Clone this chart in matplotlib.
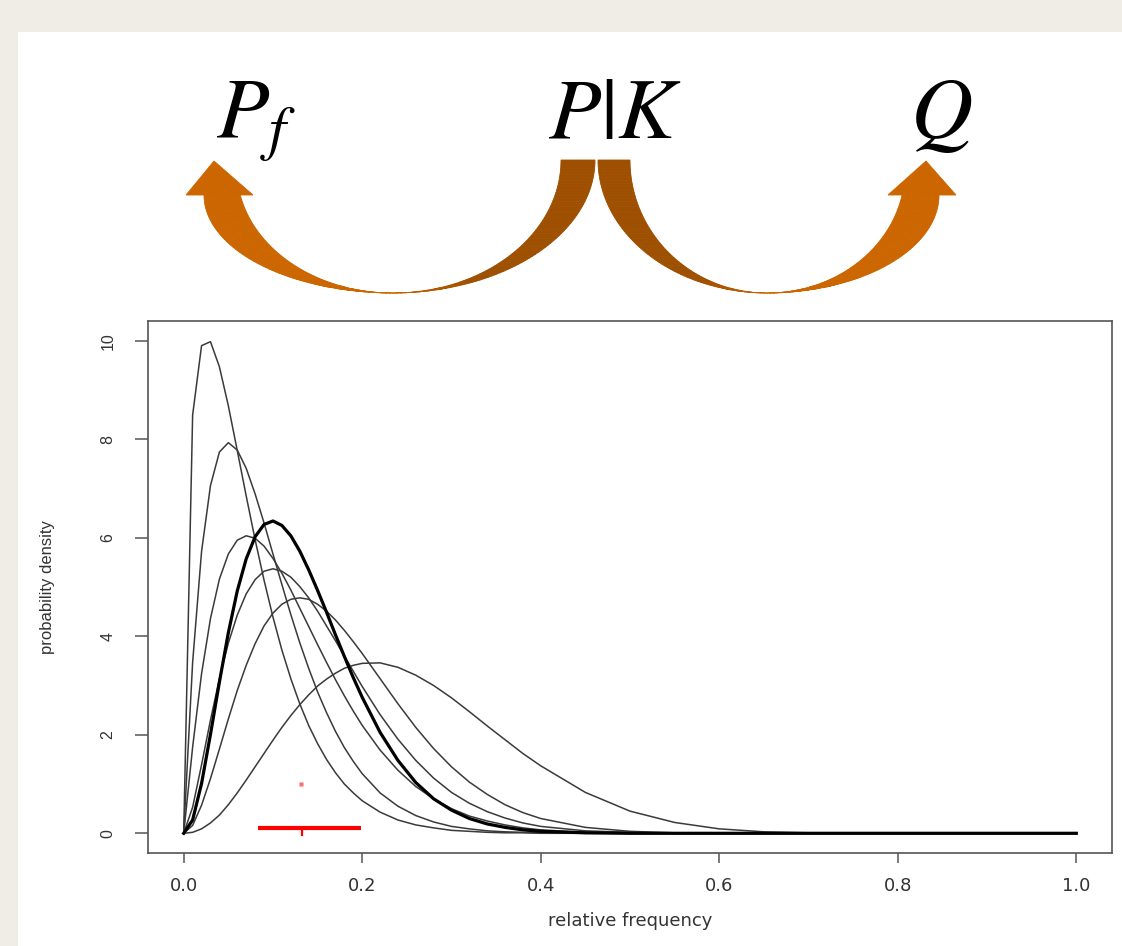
import numpy as np
import matplotlib
matplotlib.use("Agg")
import matplotlib.pyplot as plt
from matplotlib.patches import Polygon, Rectangle

plt.rcParams["mathtext.fontset"] = "stix"

# ---------------- data ----------------
rel_freq = [0.00, 0.01, 0.02, 0.03, 0.04, 0.05, 0.06, 0.07, 0.08, 0.09, 0.10,
            0.11, 0.12, 0.13, 0.14, 0.15, 0.16, 0.17, 0.18, 0.19, 0.20,
            0.22, 0.24, 0.26, 0.28, 0.30, 0.32, 0.34, 0.36, 0.38, 0.40,
            0.45, 0.50, 0.55, 0.60, 0.65, 0.70, 0.80, 1.00]

dens_a = [0, 8.49, 9.90, 9.98, 9.47, 8.68, 7.77, 6.85, 5.96, 5.14, 4.39,
          3.72, 3.14, 2.63, 2.19, 1.82, 1.50, 1.23, 1.00, 0.82, 0.66,
          0.43, 0.27, 0.17, 0.11, 0.06, 0.04, 0.02, 0.01, 0.01, 0.00,
          0, 0, 0, 0, 0, 0, 0, 0]
dens_b = [0, 3.47, 5.72, 7.06, 7.74, 7.93, 7.78, 7.41, 6.89, 6.30, 5.67,
          5.05, 4.44, 3.87, 3.35, 2.87, 2.45, 2.07, 1.74, 1.46, 1.21,
          0.82, 0.55, 0.36, 0.23, 0.14, 0.09, 0.05, 0.03, 0.02, 0.01,
          0, 0, 0, 0, 0, 0, 0, 0]
dens_c = [0, 1.75, 3.24, 4.36, 5.16, 5.67, 5.95, 6.04, 5.99, 5.83, 5.58,
          5.28, 4.94, 4.57, 4.20, 3.83, 3.47, 3.12, 2.79, 2.48, 2.19,
          1.69, 1.28, 0.95, 0.70, 0.50, 0.35, 0.25, 0.17, 0.11, 0.07,
          0.02, 0.01, 0, 0, 0, 0, 0, 0]
dens_e = [0, 0.53, 1.39, 2.30, 3.14, 3.86, 4.43, 4.86, 5.15, 5.32, 5.37,
          5.32, 5.20, 5.01, 4.78, 4.51, 4.21, 3.91, 3.60, 3.29, 2.98,
          2.41, 1.91, 1.48, 1.12, 0.83, 0.61, 0.44, 0.31, 0.21, 0.14,
          0.05, 0.02, 0, 0, 0, 0, 0, 0]
dens_f = [0, 0.16, 0.57, 1.11, 1.71, 2.32, 2.90, 3.41, 3.85, 4.21, 4.47,
          4.65, 4.75, 4.78, 4.75, 4.65, 4.51, 4.33, 4.12, 3.89, 3.65,
          3.14, 2.63, 2.15, 1.72, 1.35, 1.04, 0.79, 0.58, 0.42, 0.30,
          0.12, 0.04, 0.01, 0, 0, 0, 0, 0]
dens_g = [0, 0.02, 0.09, 0.21, 0.37, 0.58, 0.82, 1.08, 1.35, 1.62, 1.89,
          2.15, 2.39, 2.61, 2.81, 2.99, 3.13, 3.25, 3.35, 3.41, 3.45,
          3.46, 3.37, 3.21, 3.00, 2.75, 2.47, 2.18, 1.90, 1.62, 1.37,
          0.83, 0.45, 0.22, 0.09, 0.03, 0.01, 0, 0]
# highlighted (bold) density
dens_main = [0, 0.27, 1.01, 2.01, 3.07, 4.07, 4.92, 5.57, 6.02, 6.27, 6.34,
             6.25, 6.04, 5.73, 5.35, 4.93, 4.49, 4.03, 3.59, 3.16, 2.76,
             2.05, 1.48, 1.03, 0.70, 0.47, 0.30, 0.19, 0.12, 0.07, 0.04,
             0.01, 0, 0, 0, 0, 0, 0, 0]
thin_curves = [dens_a, dens_b, dens_c, dens_e, dens_f, dens_g]

interval_low, interval_high, interval_y = 0.083, 0.199, 0.10
point_est = 0.133
red_dot = (0.131, 1.01)

x_ticks = [0.0, 0.2, 0.4, 0.6, 0.8, 1.0]
x_tick_labels = ["0.0", "0.2", "0.4", "0.6", "0.8", "1.0"]
y_ticks = [0, 2, 4, 6, 8, 10]
y_tick_labels = ["0", "2", "4", "6", "8", "10"]
top_labels = [r"$P_f$", r"$P|K$", r"$Q$"]

# ---------------- figure ----------------
W, H = 1122, 946
fig = plt.figure(figsize=(W / 100, H / 100), dpi=100)
fig.patch.set_facecolor("#f0ede6")

deco = fig.add_axes([0, 0, 1, 1], zorder=0)
deco.set_xlim(0, W)
deco.set_ylim(H, 0)
deco.axis("off")
deco.add_patch(Rectangle((18, 32), W - 18, H - 32, facecolor="white", edgecolor="none"))

ORANGE = np.array([204, 102, 0]) / 255
DARK = np.array([158, 80, 0]) / 255


def band(cx, outer, inner, sign, t0_inner, dark_arm, n=70):
    """outer/inner: (cy, rx, ry); s=0 at bottom, s=1 at far end."""
    s = np.linspace(0, 1, n + 1)
    to = np.pi / 2 * (1 - s)
    ti = t0_inner + (np.pi / 2 - t0_inner) * (1 - s)
    ox = cx + sign * outer[1] * np.cos(to)
    oy = outer[0] + outer[2] * np.sin(to)
    ix = cx + sign * inner[1] * np.cos(ti)
    iy = inner[0] + inner[2] * np.sin(ti)
    for k in range(n):
        sm = 0.5 * (s[k] + s[k + 1])
        if dark_arm:
            f = min(max(sm / 0.28, 0), 1)
        else:
            f = 0.0
        col = ORANGE * (1 - f) + DARK * f
        poly = [(ox[k], oy[k]), (ox[k + 1], oy[k + 1]),
                (ix[k + 1], iy[k + 1]), (ix[k], iy[k])]
        deco.add_patch(Polygon(poly, closed=True, facecolor=col,
                               edgecolor=col, lw=0.6))


t0 = np.arcsin(25 / 123)
# left arrow (towards P_f)
band(393, (195, 189, 98), (170, 156, 123), -1, t0, False)
band(393, (160, 202, 133), (160, 168, 133), +1, 0.0, True)
deco.add_patch(Polygon([(186, 195), (214, 161), (253, 195)], closed=True,
                       facecolor=ORANGE, edgecolor=ORANGE, lw=0.6))
# right arrow (towards Q)
band(767, (195, 172, 98), (170, 138, 123), +1, t0, False)
band(767, (160, 169, 133), (160, 137, 133), -1, 0.0, True)
deco.add_patch(Polygon([(888, 195), (926, 161), (956, 195)], closed=True,
                       facecolor=ORANGE, edgecolor=ORANGE, lw=0.6))

for lbl, xc in zip(top_labels, [256, 615, 941]):
    deco.text(xc, 138, lbl, fontsize=62, ha="center", va="baseline", color="black")

# ---------------- plot panel ----------------
L, R, T, B = 148, 1112, 321, 853
ax = fig.add_axes([L / W, 1 - B / H, (R - L) / W, (B - T) / H], zorder=1)
ax.set_facecolor("white")

for dens in thin_curves:
    ax.plot(rel_freq, dens, color="#3a3a3a", lw=1.1, solid_joinstyle="round")
ax.plot(rel_freq, dens_main, color="black", lw=2.3, solid_joinstyle="round")

ax.plot([interval_low, interval_high], [interval_y, interval_y], color="red",
        lw=3.0, solid_capstyle="butt", zorder=5)
ax.plot([point_est, point_est], [interval_y, -0.03], color="red", lw=1.6, zorder=5)
ax.plot([red_dot[0]], [red_dot[1]], marker="s", ms=2.2, color="#ff6a6a", mec="none", zorder=5)

ax.set_xlim(-0.04, 1.04)
ax.set_ylim(-0.4, 10.4)
ax.set_xticks(x_ticks)
ax.set_xticklabels(x_tick_labels, family="DejaVu Sans")
ax.set_yticks(y_ticks)
ax.set_yticklabels(y_tick_labels, family="Liberation Sans")

for sp in ax.spines.values():
    sp.set_color("#555555")
    sp.set_linewidth(1.2)

ax.tick_params(axis="x", direction="out", length=7.5, width=1.1, color="#555555",
               pad=10, labelsize=13, labelcolor="#333333")
ax.tick_params(axis="y", direction="out", length=9.5, width=1.1, color="#555555",
               pad=14, labelsize=11.5, labelcolor="#333333", labelrotation=90)
for lbl in ax.get_yticklabels():
    lbl.set_va("center")

ax.set_xlabel("relative frequency", fontsize=13, color="#333333", family="DejaVu Sans")
ax.xaxis.set_label_coords(0.5, (B - 921) / (B - T))
ax.xaxis.label.set_va("center")
ax.set_ylabel("probability density", fontsize=12, color="#333333", family="Liberation Sans")
ax.yaxis.set_label_coords((47 - L) / (R - L), 0.5)
ax.yaxis.label.set_va("center")

fig.savefig("out.png", dpi=100, facecolor=fig.get_facecolor())
